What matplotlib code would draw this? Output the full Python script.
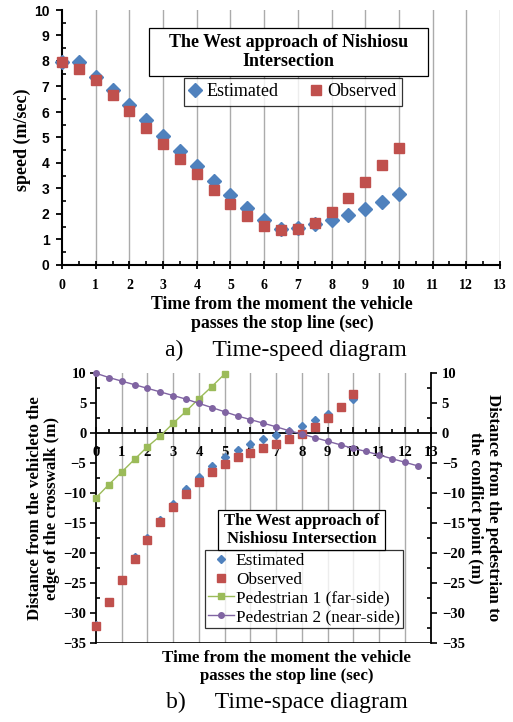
import matplotlib
matplotlib.use("Agg")
import matplotlib.pyplot as plt
from matplotlib.patches import Rectangle
from matplotlib.ticker import MultipleLocator

SERIF = "Liberation Serif"
SANS = "Liberation Sans"

# ---- data: time-speed diagram ----
t_speed = [0, 0.5, 1, 1.5, 2, 2.5, 3, 3.5, 4, 4.5, 5, 5.5, 6, 6.5, 7, 7.5, 8, 8.5, 9, 9.5, 10]
speed_est = [7.98, 7.95, 7.39, 6.85, 6.26, 5.67, 5.06, 4.47, 3.89, 3.29, 2.75,
             2.22, 1.76, 1.41, 1.46, 1.59, 1.76, 1.96, 2.20, 2.48, 2.78]
speed_obs = [7.97, 7.67, 7.24, 6.65, 6.04, 5.36, 4.76, 4.17, 3.56, 2.96, 2.41,
             1.92, 1.54, 1.37, 1.40, 1.66, 2.06, 2.63, 3.26, 3.91, 4.60]

# ---- data: time-space diagram ----
t_space = t_speed
dist_est = [-32.0, -28.1, -24.4, -20.7, -17.5, -14.5, -11.8, -9.4, -7.3, -5.5, -4.0,
            -2.9, -1.9, -1.1, -0.4, 0.35, 1.2, 2.1, 3.2, 4.3, 5.6]
dist_obs = [-32.1, -28.2, -24.5, -21.0, -17.8, -14.9, -12.3, -10.1, -8.2, -6.5, -5.1,
            -4.1, -3.3, -2.5, -1.8, -1.0, -0.2, 1.0, 2.5, 4.3, 6.4]
t_ped1 = [0, 0.5, 1, 1.5, 2, 2.5, 3, 3.5, 4, 4.5, 5]
ped1 = [-10.8, -8.6, -6.5, -4.4, -2.3, -0.5, 1.6, 3.6, 5.7, 7.7, 9.8]
t_ped2 = [0, 0.5, 1, 1.5, 2, 2.5, 3, 3.5, 4, 4.5, 5, 5.5, 6, 6.5, 7, 7.5, 8,
          8.5, 9, 9.5, 10, 10.5, 11, 11.5, 12, 12.5]
ped2 = [9.9, 9.2, 8.6, 8.0, 7.4, 6.8, 6.2, 5.6, 4.9, 4.2, 3.5, 2.8, 2.2, 1.6, 1.0,
        0.35, -0.2, -0.8, -1.4, -2.0, -2.6, -3.1, -3.7, -4.3, -4.9, -5.5]

blue = "#4F81BD"
red = "#C0504D"
green = "#9BBB59"
purple = "#8064A2"
grid_c = "#ababab"

W, H = 513, 722
fig = plt.figure(figsize=(W / 100, H / 100), dpi=100)

def fx(px):
    return px / W

def fy(py):
    return 1 - py / H

# ================= top chart =================
ax1 = fig.add_axes([fx(62), fy(265), fx(500) - fx(62), fy(10) - fy(265)])
ax1.set_xlim(0, 13)
ax1.set_ylim(0, 10)
for x in range(1, 14):
    ax1.axvline(x, color=grid_c, lw=1.0, zorder=0)
ax1.plot(t_speed, speed_est, "D", color=blue, ms=7, mec=blue, zorder=3, clip_on=False,
         label="Estimated")
ax1.plot(t_speed, speed_obs, "s", color=red, ms=7, mec=red, zorder=3, clip_on=False,
         label="Observed")

for s in ["top", "right"]:
    ax1.spines[s].set_visible(False)
for s in ["left", "bottom"]:
    ax1.spines[s].set_linewidth(1.5)
ax1.xaxis.set_major_locator(MultipleLocator(1))
ax1.xaxis.set_minor_locator(MultipleLocator(0.5))
ax1.yaxis.set_major_locator(MultipleLocator(1))
ax1.yaxis.set_minor_locator(MultipleLocator(0.5))
ax1.tick_params(axis="x", which="major", direction="inout", length=6, width=1.3, pad=7)
ax1.tick_params(axis="x", which="minor", direction="in", length=3, width=1.2)
ax1.tick_params(axis="y", which="major", direction="out", length=4, width=1.3, pad=5)
ax1.tick_params(axis="y", which="minor", direction="in", length=3, width=1.2)
for lab in ax1.get_xticklabels():
    lab.set_fontfamily(SERIF)
    lab.set_fontweight("bold")
    lab.set_fontsize(10)
for lab in ax1.get_yticklabels():
    lab.set_fontfamily(SANS)
    lab.set_fontweight("bold")
    lab.set_fontsize(10)

fig.text(fx(22), fy(140), "speed (m/sec)", rotation=90, ha="center", va="center",
         family=SERIF, weight="bold", fontsize=13)

# legend title box
fig.patches.append(Rectangle((fx(149), fy(76)), fx(428) - fx(149), fy(28) - fy(76),
                             transform=fig.transFigure, facecolor="white",
                             edgecolor="black", lw=0.9, zorder=5))
fig.text(fx(288.5), fy(52), "The West approach of Nishiosu\nIntersection", ha="center",
         va="center", family=SERIF, weight="bold", fontsize=13, linespacing=1.15, zorder=6)
leg1 = ax1.legend(loc="center", bbox_to_anchor=(fx(293), fy(92)), bbox_transform=fig.transFigure,
                  ncol=2, frameon=True, fancybox=False, prop={"family": SERIF, "size": 13},
                  handlelength=0.6, handletextpad=0.3, columnspacing=1.8, borderpad=0.3,
                  borderaxespad=0)
leg1.get_frame().set_edgecolor("black")
leg1.get_frame().set_linewidth(0.9)

fig.text(fx(282), fy(314), "Time from the moment the vehicle\npasses the stop line (sec)",
         ha="center", va="center", family=SERIF, weight="bold", fontsize=12.8, linespacing=1.2)
fig.text(fx(285.5), fy(350), "a)     Time-speed diagram", ha="center", va="center",
         family=SERIF, fontsize=17)

# ================= bottom chart =================
ax2 = fig.add_axes([fx(96), fy(643.3), fx(430.7) - fx(96), fy(372.7) - fy(643.3)])
ax2.set_xlim(0, 13)
ax2.set_ylim(-35, 10)
for x in range(1, 13):
    ax2.axvline(x, color=grid_c, lw=1.0, zorder=0)
ax2.axhline(-35, color="black", lw=1.2, zorder=1)
ax2.plot(t_space, dist_est, "D", color=blue, ms=4.5, mec=blue, zorder=3, clip_on=False,
         label="Estimated")
ax2.plot(t_space, dist_obs, "s", color=red, ms=6.3, mec=red, zorder=3, clip_on=False,
         label="Observed")
ax2.plot(t_ped1, ped1, "-s", color=green, lw=1.0, ms=4.2, mec=green, zorder=3, clip_on=False,
         label="Pedestrian 1 (far-side)")
ax2.plot(t_ped2, ped2, "-o", color=purple, lw=1.0, ms=4.0, mec=purple, zorder=3, clip_on=False,
         label="Pedestrian 2 (near-side)")

ax2.spines["top"].set_visible(False)
ax2.spines["right"].set_visible(False)
ax2.spines["bottom"].set_position(("data", 0))
ax2.spines["bottom"].set_linewidth(1.3)
ax2.spines["left"].set_linewidth(1.3)
ax2.xaxis.set_major_locator(MultipleLocator(1))
ax2.xaxis.set_minor_locator(MultipleLocator(0.5))
ax2.yaxis.set_major_locator(MultipleLocator(5))
ax2.yaxis.set_minor_locator(MultipleLocator(2.5))
ax2.tick_params(axis="x", which="major", direction="in", length=4, width=1.2, pad=9.5)
ax2.tick_params(axis="x", which="minor", direction="in", length=3, width=1.2)
ax2.tick_params(axis="y", which="major", direction="out", length=4, width=1.2, pad=3)
ax2.tick_params(axis="y", which="minor", direction="in", length=3, width=1.2)
for lab in ax2.get_xticklabels() + ax2.get_yticklabels():
    lab.set_fontfamily(SERIF)
    lab.set_fontweight("bold")
    lab.set_fontsize(10.5)

ax3 = ax2.twinx()
ax3.set_ylim(-35, 10)
for s in ["top", "bottom", "left"]:
    ax3.spines[s].set_visible(False)
ax3.spines["right"].set_linewidth(1.3)
ax3.yaxis.set_major_locator(MultipleLocator(5))
ax3.yaxis.set_minor_locator(MultipleLocator(2.5))
ax3.tick_params(axis="y", which="major", direction="out", length=4, width=1.2, pad=4)
ax3.tick_params(axis="y", which="minor", direction="in", length=3, width=1.2)
for lab in ax3.get_yticklabels():
    lab.set_fontfamily(SERIF)
    lab.set_fontweight("bold")
    lab.set_fontsize(10.5)

fig.text(fx(43.5), fy(508), "Distance from the vehicleto the\nedge of the crosswalk (m)",
         rotation=90, ha="center", va="center", ma="center", family=SERIF, weight="bold",
         fontsize=12.2, linespacing=1.15)
fig.text(fx(484), fy(508), "Distance from the pedestrian to\nthe conflict point (m)",
         rotation=270, ha="center", va="center", ma="center", family=SERIF, weight="bold",
         fontsize=12.2, linespacing=1.15)

fig.patches.append(Rectangle((fx(218), fy(550)), fx(385) - fx(218), fy(510) - fy(550),
                             transform=fig.transFigure, facecolor="white",
                             edgecolor="black", lw=0.9, zorder=5))
fig.text(fx(301.5), fy(530), "The West approach of\nNishiosu Intersection", ha="center",
         va="center", family=SERIF, weight="bold", fontsize=12, linespacing=1.1, zorder=6)
h, l = ax2.get_legend_handles_labels()
leg2 = ax3.legend(h, l, loc="center", bbox_to_anchor=(fx(304), fy(589)),
                  bbox_transform=fig.transFigure, frameon=True, fancybox=False,
                  prop={"family": SERIF, "size": 12.4}, handlelength=1.5, handletextpad=0.1,
                  borderpad=0.2, labelspacing=0.15, borderaxespad=0)
leg2.get_frame().set_edgecolor("black")
leg2.get_frame().set_linewidth(0.9)
leg2.set_zorder(10)

fig.text(fx(286.5), fy(667), "Time from the moment the vehicle\npasses the stop line (sec)",
         ha="center", va="center", family=SERIF, weight="bold", fontsize=12.2, linespacing=1.15)
fig.text(fx(286.5), fy(702), "b)     Time-space diagram", ha="center", va="center",
         family=SERIF, fontsize=17)

fig.savefig("out.png", dpi=100)
